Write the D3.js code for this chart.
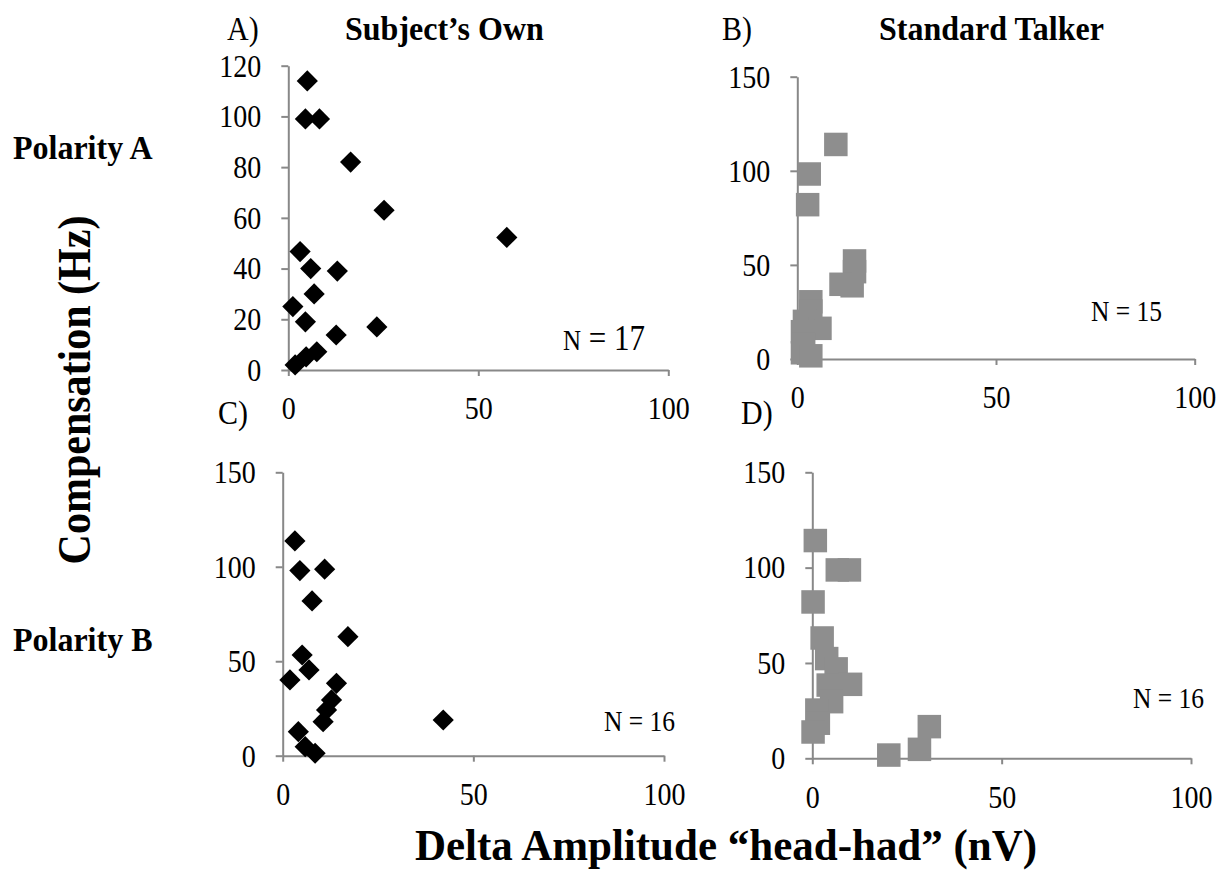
<!DOCTYPE html>
<html><head><meta charset="utf-8">
<script src="https://cdn.jsdelivr.net/npm/d3@7"></script>
<style>
body{margin:0;background:#fff} svg{display:block}
svg text{font-family:'Liberation Serif','Times New Roman',Times,serif !important;}
</style>
</head><body><svg id="c" width="1222" height="871"></svg>
<script>
// ---- data ----
const xTickValues = [0, 50, 100];
const yTicksA = [0, 20, 40, 60, 80, 100, 120];
const yTicks150 = [0, 50, 100, 150];

const ownPolA_x = [5.0, 4.5, 8.2, 16.4, 25.2, 57.5, 3.1, 5.9, 12.9, 6.8, 1.2, 4.5, 23.3, 12.6, 7.5, 4.7, 1.8];
const ownPolA_y = [114, 99, 99, 82, 63, 52.3, 46.7, 40, 39, 30, 25, 19, 17, 13.8, 7.2, 5.2, 2];

const stdPolA_x = [9.7, 3.0, 2.6, 14.4, 14.4, 11.0, 13.8, 3.4, 3.4, 1.8, 5.7, 1.3, 1.6, 1.3, 3.4];
const stdPolA_y = [114, 98.3, 82, 52.1, 46.4, 39.7, 38.9, 30.4, 25.5, 20, 16.3, 14.5, 8, 3.3, 1.7];

const ownPolB_x = [3.2, 4.5, 11.0, 7.7, 17.1, 5.1, 6.9, 1.9, 14.1, 12.8, 11.5, 10.6, 42.1, 4.1, 5.9, 8.5];
const ownPolB_y = [113.7, 98, 98.7, 81.9, 63, 53.3, 45.4, 40.1, 38.3, 29.5, 24.2, 18, 18.9, 12.7, 4.8, 1.3];

const stdPolB_x = [0.8, 6.6, 9.8, 0.2, 2.6, 3.8, 6.3, 10.1, 4.2, 5.1, 1.2, 1.6, 0.2, 20.2, 28.3, 30.9];
const stdPolB_y = [114.2, 98.8, 98.8, 82, 63.1, 52.3, 46.9, 38.8, 38.4, 29.7, 25.3, 18.4, 13.8, 1.7, 4.7, 16.6];

const nLabels = ["17", "15", "16", "16"];

// ---- layout ----
const svg = d3.select('#c');
const AXIS = '#888888';
const GREY = '#8e8e8e';
const SY = 1.15;

const panels = [
  {xs: ownPolA_x, ys: ownPolA_y, yMax: 120, yTicks: yTicksA, xr: [288.3, 668.3], yr: [370, 65.7], mark: 'diamond', n: nLabels[0], nPos: [563, 350], nSize: 31, nSmall: 25},
  {xs: stdPolA_x, ys: stdPolA_y, yMax: 150, yTicks: yTicks150, xr: [797.3, 1194.7], yr: [359, 76.7], mark: 'square', n: nLabels[1], nPos: [1091, 321], nSize: 25.5, nSmall: 25.5},
  {xs: ownPolB_x, ys: ownPolB_y, yMax: 150, yTicks: yTicks150, xr: [282.7, 664], yr: [755.7, 472.3], mark: 'diamond', n: nLabels[2], nPos: [604, 731], nSize: 25.5, nSmall: 25.5},
  {xs: stdPolB_x, ys: stdPolB_y, yMax: 150, yTicks: yTicks150, xr: [812.3, 1191], yr: [758.3, 472.3], mark: 'square', n: nLabels[3], nPos: [1133, 708], nSize: 25.5, nSmall: 25.5}
];

function label(x, y, str, size, weight, anchor, sy) {
  return svg.append('text')
    .attr('transform', `translate(${x},${y}) scale(1,${sy || SY})`)
    .attr('font-size', size)
    .attr('font-weight', weight || 'normal')
    .attr('text-anchor', anchor || 'start')
    .attr('fill', '#000').text(str);
}

panels.forEach(p => {
  const x = d3.scaleLinear().domain([0, 100]).range(p.xr);
  const y = d3.scaleLinear().domain([0, p.yMax]).range(p.yr);
  const g = svg.append('g');

  const ax = g.append('g').attr('transform', `translate(0,${y(0)})`)
    .call(d3.axisBottom(x).tickValues(xTickValues).tickSize(6).tickSizeOuter(0).tickPadding(17));
  const ay = g.append('g').attr('transform', `translate(${x(0)},0)`)
    .call(d3.axisLeft(y).tickValues(p.yTicks).tickSize(7).tickSizeOuter(0).tickPadding(20));
  [ax, ay].forEach(a => {
    a.attr('font-family', null);
    a.select('.domain').attr('stroke', AXIS).attr('stroke-width', 2);
    a.selectAll('.tick line').attr('stroke', AXIS).attr('stroke-width', 2);
    a.selectAll('.tick text').attr('font-size', 28)
      .attr('fill', '#000').attr('transform', `scale(1,${SY})`);
  });

  const pts = p.xs.map((v, i) => [v, p.ys[i]]);
  if (p.mark === 'diamond') {
    const sym = d3.symbol().type(d3.symbolSquare).size(225);
    g.selectAll('path.pt').data(pts).join('path').attr('class', 'pt')
      .attr('d', sym)
      .attr('transform', d => `translate(${x(d[0])},${y(d[1])}) rotate(45)`)
      .attr('fill', '#000');
  } else {
    const s = 23.5;
    g.selectAll('rect.pt').data(pts).join('rect').attr('class', 'pt')
      .attr('x', d => x(d[0]) - s / 2).attr('y', d => y(d[1]) - s / 2)
      .attr('width', s).attr('height', s).attr('fill', GREY);
  }

  const t = svg.append('text')
    .attr('transform', `translate(${p.nPos[0]},${p.nPos[1]}) scale(1,${SY})`)
    .attr('fill', '#000');
  t.append('tspan').attr('font-size', p.nSmall).text('N');
  t.append('tspan').attr('font-size', p.nSize).text(' = ' + p.n);
});

// titles & labels
label(227, 40, 'A)', 30);
label(345, 40, 'Subject\u2019s Own', 32, 'bold', 'start', 1.08);
label(722, 40, 'B)', 30);
label(879, 40, 'Standard Talker', 32, 'bold', 'start', 1.08);
label(218, 424, 'C)', 30);
label(741, 424, 'D)', 30);
label(13, 159, 'Polarity A', 32, 'bold', 'start', 1.08);
label(13, 651, 'Polarity B', 32, 'bold', 'start', 1.08);
label(726, 860, 'Delta Amplitude \u201chead-had\u201d (nV)', 43, 'bold', 'middle', 1.05);

svg.append('text')
  .attr('transform', 'translate(90,390) rotate(-90) scale(1,1.08)')
  .attr('font-size', 42).attr('font-weight', 'bold')
  .attr('text-anchor', 'middle').attr('fill', '#000')
  .text('Compensation (Hz)');
</script></body></html>
